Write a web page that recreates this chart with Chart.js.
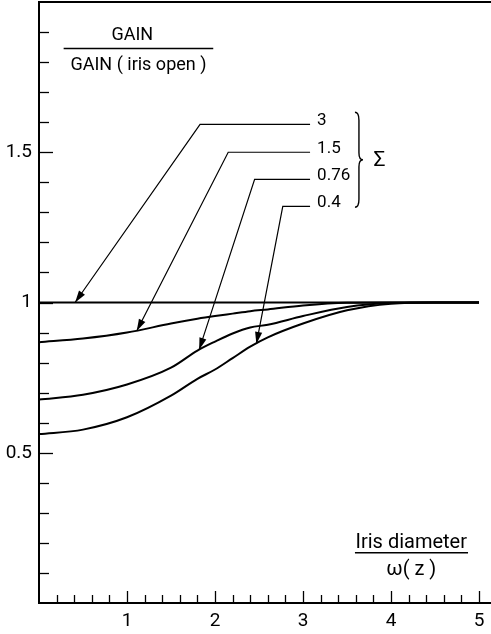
<!DOCTYPE html>
<html>
<head>
<meta charset="utf-8">
<script src="https://cdn.jsdelivr.net/npm/chart.js@4/dist/chart.umd.min.js"></script>
<style>
  html, body { margin: 0; padding: 0; background: #fff; }
  #wrap { width: 491px; height: 634px; }
</style>
</head>
<body>
<div id="wrap"><canvas id="gainChart"></canvas></div>
<script>
// iris diameter / w(z)
const irisX = [0, 0.5, 1, 1.5, 1.8, 2, 2.2, 2.4, 2.6, 3, 3.5, 4, 4.5, 5];
// gain / gain(iris open) for each sigma
const gainSigma3   = [1, 1, 1, 1, 1, 1, 1, 1, 1, 1, 1, 1, 1, 1];
const gainSigma1_5 = [0.868, 0.88, 0.90, 0.93, 0.946, 0.955, 0.963, 0.971, 0.977, 0.99, 0.999, 1, 1, 1];
const gainSigma076 = [0.677, 0.693, 0.727, 0.783, 0.84, 0.87, 0.897, 0.917, 0.926, 0.955, 0.985, 0.998, 1, 1];
const gainSigma04  = [0.562, 0.577, 0.618, 0.69, 0.746, 0.777, 0.815, 0.853, 0.884, 0.93, 0.974, 0.996, 1, 1];
const sigmaLabels = ['3', '1.5', '0.76', '0.4'];
const xTickValues = [1, 2, 3, 4, 5];
const xTickLabels = ['1', '2', '3', '4', '5'];
const yTickValues = [0.5, 1, 1.5];
const yTickLabels = ['0.5', '1', '1.5'];

const FONT = 'Roboto, "DejaVu Sans", sans-serif';

function toPoints(ys) {
    return irisX.map((x, i) => ({ x: x, y: ys[i] }));
}

function curve(ys) {
    return {
        data: toPoints(ys),
        borderColor: '#000',
        borderWidth: 2,
        pointRadius: 0,
        fill: false,
        cubicInterpolationMode: 'monotone'
    };
}

function noPadding(scale) {
    scale.paddingTop = 0;
    scale.paddingBottom = 0;
    scale.paddingLeft = 0;
    scale.paddingRight = 0;
}

// ticks inside the axes, arrows, labels, brace, axis titles
const decorPlugin = {
    id: 'decor',
    afterDraw(chart) {
        const { ctx, chartArea, scales: { x, y } } = chart;
        const px = v => x.getPixelForValue(v);
        const py = v => y.getPixelForValue(v);
        ctx.save();
        ctx.strokeStyle = '#000';
        ctx.fillStyle = '#000';

        // top frame line
        ctx.lineWidth = 2;
        ctx.beginPath();
        ctx.moveTo(chartArea.left, chartArea.top);
        ctx.lineTo(chartArea.right, chartArea.top);
        ctx.stroke();

        // x ticks every 0.2
        ctx.lineWidth = 1.3;
        for (let i = 1; i <= 25; i++) {
            const len = i % 5 === 0 ? 12 : 8;
            const xx = Math.round(px(i / 5)) + 0.5;
            ctx.beginPath();
            ctx.moveTo(xx, chartArea.bottom);
            ctx.lineTo(xx, chartArea.bottom - len);
            ctx.stroke();
        }
        // y ticks every 0.1
        for (let i = 1; i <= 19; i++) {
            const len = i % 5 === 0 ? 14 : 10;
            const yy = Math.round(py(i / 10)) + 0.5;
            ctx.beginPath();
            ctx.moveTo(chartArea.left, yy);
            ctx.lineTo(chartArea.left + len, yy);
            ctx.stroke();
        }

        // arrows from the sigma labels to the curves
        const arrows = [
            { tip: [0.41, 1.0],   elbow: [1.83, 1.593] },
            { tip: [1.11, 0.905], elbow: [2.15, 1.50] },
            { tip: [1.82, 0.843], elbow: [2.45, 1.41] },
            { tip: [2.47, 0.862], elbow: [2.77, 1.32] }
        ];
        const leaderEnd = px(3.08);
        ctx.lineWidth = 1.2;
        ctx.font = '17px ' + FONT;
        ctx.textAlign = 'left';
        ctx.textBaseline = 'alphabetic';
        arrows.forEach((a, i) => {
            const tx = px(a.tip[0]), ty = py(a.tip[1]);
            const ex = px(a.elbow[0]), ey = py(a.elbow[1]);
            ctx.beginPath();
            ctx.moveTo(leaderEnd, ey);
            ctx.lineTo(ex, ey);
            ctx.lineTo(tx, ty);
            ctx.stroke();
            const ang = Math.atan2(ty - ey, tx - ex);
            const L = 12, W = 3.6;
            ctx.beginPath();
            ctx.moveTo(tx, ty);
            ctx.lineTo(tx - L * Math.cos(ang) + W * Math.sin(ang), ty - L * Math.sin(ang) - W * Math.cos(ang));
            ctx.lineTo(tx - L * Math.cos(ang) - W * Math.sin(ang), ty - L * Math.sin(ang) + W * Math.cos(ang));
            ctx.closePath();
            ctx.fill();
            ctx.fillText(sigmaLabels[i], px(3.16), ey + 1);
        });

        // brace and sigma
        const bx = px(3.59), bt = py(1.633), bb = py(1.317), bm = (bt + bb) / 2;
        ctx.lineWidth = 1.4;
        ctx.beginPath();
        ctx.moveTo(bx, bt);
        ctx.quadraticCurveTo(bx + 4, bt, bx + 4, bt + 8);
        ctx.lineTo(bx + 4, bm - 7);
        ctx.quadraticCurveTo(bx + 4, bm, bx + 8, bm);
        ctx.quadraticCurveTo(bx + 4, bm, bx + 4, bm + 7);
        ctx.lineTo(bx + 4, bb - 8);
        ctx.quadraticCurveTo(bx + 4, bb, bx, bb);
        ctx.stroke();
        ctx.font = '21px ' + FONT;
        ctx.textBaseline = 'middle';
        ctx.fillText('\u03A3', px(3.8), bm + 1);

        // y title as a fraction
        ctx.textAlign = 'center';
        ctx.font = '18px ' + FONT;
        ctx.fillText('GAIN', px(1.06), py(1.887));
        ctx.lineWidth = 1.5;
        ctx.beginPath();
        ctx.moveTo(px(0.28), py(1.845));
        ctx.lineTo(px(1.98), py(1.845));
        ctx.stroke();
        ctx.fillText('GAIN ( iris open )', px(1.13), py(1.79));

        // x title as a fraction
        ctx.font = '20px ' + FONT;
        ctx.fillText('Iris diameter', px(4.23), py(0.2));
        ctx.beginPath();
        ctx.moveTo(px(3.59), py(0.167));
        ctx.lineTo(px(4.875), py(0.167));
        ctx.stroke();
        ctx.fillText('\u03C9( z )', px(4.23), py(0.11));

        ctx.restore();
    }
};

const gainChart = new Chart(document.getElementById('gainChart').getContext('2d'), {
    type: 'line',
    data: {
        datasets: [curve(gainSigma3), curve(gainSigma1_5), curve(gainSigma076), curve(gainSigma04)]
    },
    options: {
        responsive: true,
        maintainAspectRatio: false,
        animation: false,
        events: [],
        layout: { padding: { top: 2, right: 0, left: 0, bottom: 0 } },
        plugins: { legend: { display: false }, tooltip: { enabled: false } },
        scales: {
            x: {
                type: 'linear',
                min: 0,
                max: 5.136,
                grid: { display: false, drawTicks: false },
                border: { display: true, color: '#000', width: 2 },
                ticks: {
                    color: '#000', padding: 7, maxRotation: 0,
                    font: { family: FONT, size: 19 },
                    callback: (v) => xTickLabels[xTickValues.indexOf(v)]
                },
                afterBuildTicks: scale => { scale.ticks = xTickValues.map(v => ({ value: v })); },
                afterFit: scale => { scale.height = 31; noPadding(scale); }
            },
            y: {
                type: 'linear',
                min: 0,
                max: 2,
                grid: { display: false, drawTicks: false },
                border: { display: true, color: '#000', width: 2 },
                ticks: {
                    color: '#000', padding: 7,
                    font: { family: FONT, size: 19 },
                    callback: (v) => yTickLabels[yTickValues.indexOf(v)]
                },
                afterBuildTicks: scale => { scale.ticks = yTickValues.map(v => ({ value: v })); },
                afterFit: scale => { scale.width = 39; noPadding(scale); }
            }
        }
    },
    plugins: [decorPlugin]
});
</script>
</body>
</html>
